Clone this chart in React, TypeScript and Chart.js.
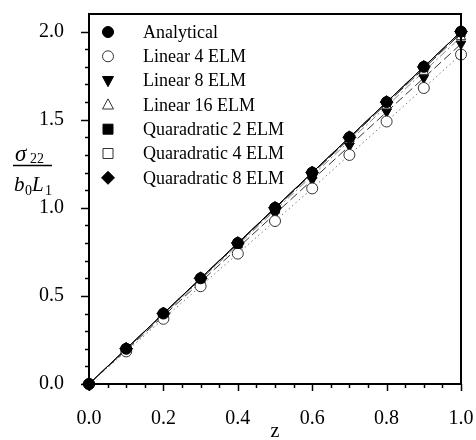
import React, { useEffect, useRef } from "react";
import { Chart, registerables } from "chart.js";

Chart.register(...registerables);

const zValues = [0, 0.1, 0.2, 0.3, 0.4, 0.5, 0.6, 0.7, 0.8, 0.9, 1.0];
const analytical = [0, 0.2, 0.4, 0.6, 0.8, 1.0, 1.2, 1.4, 1.6, 1.8, 2.0];
const linear4 = [0, 0.185, 0.37, 0.555, 0.74, 0.925, 1.11, 1.3, 1.49, 1.68, 1.87];
const linear8 = [0, 0.193, 0.386, 0.579, 0.772, 0.965, 1.158, 1.351, 1.544, 1.737, 1.93];
const linear16 = [0, 0.197, 0.394, 0.591, 0.788, 0.985, 1.182, 1.379, 1.576, 1.773, 1.97];
const quad2 = [0, 0.199, 0.398, 0.597, 0.796, 0.995, 1.194, 1.393, 1.592, 1.791, 1.99];
const quad4 = [0, 0.2, 0.4, 0.6, 0.8, 1.0, 1.2, 1.4, 1.6, 1.8, 2.0];
const quad8 = [0, 0.2, 0.4, 0.6, 0.8, 1.0, 1.2, 1.4, 1.6, 1.8, 2.0];

const seriesLabels = [
  "Analytical",
  "Linear 4 ELM",
  "Linear 8 ELM",
  "Linear 16 ELM",
  "Quaradratic 2 ELM",
  "Quaradratic 4 ELM",
  "Quaradratic 8 ELM",
];
const xTickValues = [0, 0.2, 0.4, 0.6, 0.8, 1.0];
const xTickLabels = ["0.0", "0.2", "0.4", "0.6", "0.8", "1.0"];
const yTickValues = [0, 0.5, 1.0, 1.5, 2.0];
const yTickLabels = ["0.0", "0.5", "1.0", "1.5", "2.0"];
const xTitle = "z";

const SERIF = "'Liberation Serif', 'Times New Roman', serif";

type Style = {
  pointStyle: string;
  rotation: number;
  filled: boolean;
  dash: number[];
  lineColor: string;
};

const styles: Style[] = [
  { pointStyle: "circle", rotation: 0, filled: true, dash: [], lineColor: "#000" },
  { pointStyle: "circle", rotation: 0, filled: false, dash: [1.5, 3], lineColor: "#777" },
  { pointStyle: "triangle", rotation: 180, filled: true, dash: [9, 4], lineColor: "#333" },
  { pointStyle: "triangle", rotation: 0, filled: false, dash: [8, 3, 2, 3], lineColor: "#888" },
  { pointStyle: "rect", rotation: 0, filled: true, dash: [12, 3], lineColor: "#222" },
  { pointStyle: "rect", rotation: 0, filled: false, dash: [5, 2], lineColor: "#555" },
  { pointStyle: "rectRot", rotation: 0, filled: true, dash: [], lineColor: "#111" },
];

const seriesValues = [analytical, linear4, linear8, linear16, quad2, quad4, quad8];

function drawMarker(ctx: CanvasRenderingContext2D, style: string, rotation: number, r: number, x: number, y: number) {
  ctx.beginPath();
  if (style === "circle") {
    ctx.arc(x, y, r, 0, Math.PI * 2);
  } else if (style === "triangle") {
    const s = rotation === 180 ? -1 : 1;
    ctx.moveTo(x, y - s * r * 1.1);
    ctx.lineTo(x - r, y + s * r * 0.75);
    ctx.lineTo(x + r, y + s * r * 0.75);
    ctx.closePath();
  } else if (style === "rect") {
    ctx.rect(x - r, y - r, 2 * r, 2 * r);
  } else if (style === "rectRot") {
    ctx.moveTo(x, y - r);
    ctx.lineTo(x + r, y);
    ctx.lineTo(x, y + r);
    ctx.lineTo(x - r, y);
    ctx.closePath();
  }
  ctx.fill();
  ctx.stroke();
}

const framePlugin = {
  id: "frameAndExtras",
  afterDraw(chart: any) {
    const ctx = chart.ctx as CanvasRenderingContext2D;
    const { left, right, top, bottom } = chart.chartArea;
    const xs = chart.scales.x;
    const ys = chart.scales.y;
    ctx.save();
    ctx.strokeStyle = "#000";
    ctx.lineWidth = 2;
    ctx.strokeRect(left, top, right - left, bottom - top);
    ctx.lineWidth = 1.5;
    for (let i = 0; i <= 20; i++) {
      const v = i * 0.05;
      const px = Math.round(xs.getPixelForValue(v)) + 0.5;
      const major = i % 4 === 0;
      ctx.beginPath();
      ctx.moveTo(px, bottom);
      ctx.lineTo(px, bottom + (major ? 7 : 4));
      ctx.stroke();
    }
    for (let i = 0; i <= 20; i++) {
      const v = i * 0.1;
      const py = Math.round(ys.getPixelForValue(v)) + 0.5;
      const major = i % 5 === 0;
      ctx.beginPath();
      ctx.moveTo(left, py);
      ctx.lineTo(left - (major ? 8 : 4), py);
      ctx.stroke();
    }
    ctx.fillStyle = "#000";
    ctx.font = `20px ${SERIF}`;
    ctx.textAlign = "center";
    ctx.textBaseline = "alphabetic";
    ctx.fillText(xTitle, 275, 437);
    ctx.textAlign = "left";
    ctx.font = `italic 23px ${SERIF}`;
    ctx.fillText("\u03C3", 15, 161);
    ctx.font = `14px ${SERIF}`;
    ctx.fillText("22", 30, 163);
    ctx.lineWidth = 1.5;
    ctx.beginPath();
    ctx.moveTo(13, 165.5);
    ctx.lineTo(52, 165.5);
    ctx.stroke();
    ctx.font = `italic 21px ${SERIF}`;
    ctx.fillText("b", 14, 191);
    ctx.font = `14px ${SERIF}`;
    ctx.fillText("0", 25, 195);
    ctx.font = `italic 21px ${SERIF}`;
    ctx.fillText("L", 32, 191);
    ctx.font = `14px ${SERIF}`;
    ctx.fillText("1", 45, 195);
    const rowY0 = 32;
    const rowH = 24.3;
    chart.data.datasets.forEach((ds: any, i: number) => {
      const y = rowY0 + i * rowH;
      const st = styles[i];
      ctx.save();
      ctx.fillStyle = st.filled ? "#000" : "#fff";
      ctx.strokeStyle = st.filled ? "#000" : "#333";
      ctx.lineWidth = 1;
      const r = st.pointStyle === "rect" ? 5 : st.pointStyle === "rectRot" ? 6.5 : 5.5;
      drawMarker(ctx, st.pointStyle, st.rotation, r, 108, y);
      ctx.restore();
      ctx.fillStyle = "#000";
      ctx.font = `18px ${SERIF}`;
      ctx.textBaseline = "middle";
      ctx.textAlign = "left";
      ctx.fillText(ds.label, 143, y + 1);
    });
    ctx.restore();
  },
};

export default function App() {
  const ref = useRef<HTMLCanvasElement | null>(null);
  useEffect(() => {
    if (!ref.current) return;
    const datasets = seriesValues.map((vals, i) => {
      const st = styles[i];
      return {
        label: seriesLabels[i],
        data: zValues.map((z, j) => ({ x: z, y: vals[j] })),
        showLine: true,
        borderColor: st.lineColor,
        borderWidth: 1,
        borderDash: st.dash,
        pointStyle: st.pointStyle,
        rotation: st.rotation,
        pointRadius: st.pointStyle === "rectRot" ? 6.5 : 5.5,
        pointBackgroundColor: st.filled ? "#000" : "#fff",
        pointBorderColor: st.filled ? "#000" : "#333",
        pointBorderWidth: 1,
        clip: false as any,
        fill: false,
        tension: 0,
      };
    });
    const chart = new Chart(ref.current, {
      type: "scatter",
      data: { datasets: datasets as any },
      options: {
        animation: false,
        responsive: false,
        layout: { padding: { top: 14, right: 15, left: 0, bottom: 0 } },
        plugins: { legend: { display: false }, tooltip: { enabled: false } },
        scales: {
          x: {
            type: "linear",
            min: 0,
            max: 1,
            grid: { display: false },
            border: { display: false },
            afterBuildTicks: (s: any) => {
              s.ticks = xTickValues.map((v) => ({ value: v }));
            },
            ticks: {
              autoSkip: false,
              padding: 15,
              color: "#000",
              font: { family: SERIF, size: 20 },
              maxRotation: 0,
              callback: (v: any) => {
                const idx = xTickValues.findIndex((t) => Math.abs(t - Number(v)) < 1e-6);
                return idx >= 0 ? xTickLabels[idx] : "";
              },
            },
            afterFit: (s: any) => {
              s.height = 56;
              s.paddingLeft = 0;
              s.paddingRight = 0;
              s.paddingTop = 0;
              s.paddingBottom = 0;
            },
          },
          y: {
            type: "linear",
            min: 0,
            max: 2.1,
            grid: { display: false },
            border: { display: false },
            afterBuildTicks: (s: any) => {
              s.ticks = yTickValues.map((v) => ({ value: v }));
            },
            ticks: {
              autoSkip: false,
              padding: 17,
              color: "#000",
              font: { family: SERIF, size: 20 },
              callback: (v: any) => {
                const idx = yTickValues.findIndex((t) => Math.abs(t - Number(v)) < 1e-6);
                return idx >= 0 ? yTickLabels[idx] : "";
              },
            },
            afterFit: (s: any) => {
              s.width = 89;
              s.paddingLeft = 0;
              s.paddingRight = 0;
              s.paddingTop = 0;
              s.paddingBottom = 0;
            },
          },
        },
      },
      plugins: [framePlugin],
    });
    return () => chart.destroy();
  }, []);
  return (
    <div style={{ position: "fixed", left: 0, top: 0, width: 476, height: 440, background: "#fff" }}>
      <canvas ref={ref} width={476} height={440} />
    </div>
  );
}
